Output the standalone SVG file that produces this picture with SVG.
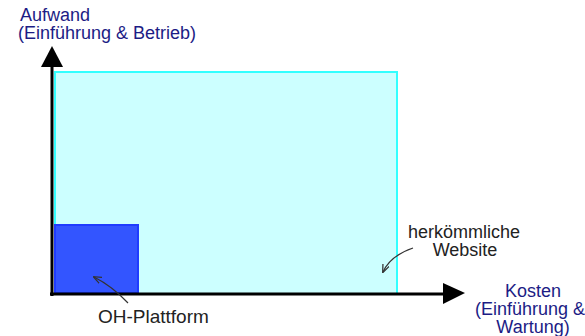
<svg xmlns="http://www.w3.org/2000/svg" width="585" height="336" viewBox="0 0 585 336">
<style>
.axis{font-family:"Liberation Sans",Arial,sans-serif;font-size:18px;fill:#1c1c85}
.lbl{font-family:"Liberation Sans",Arial,sans-serif;font-size:18px;fill:#222}
.pointer{fill:none;stroke:#333;stroke-width:1.2}
</style>
<defs>
<marker id="small" viewBox="0 0 10 10" refX="9" refY="5" markerWidth="7" markerHeight="7" orient="auto">
<path d="M0,1 L10,5 L0,9" fill="none" stroke="#333" stroke-width="1.5"/>
</marker>
</defs>
<rect width="585" height="336" fill="#fff"/>
<g id="website">
<rect x="55" y="72" width="342" height="222" fill="#ccffff" stroke="#33ffff" stroke-width="2"/>
</g>
<g id="plattform">
<rect x="55" y="225" width="83" height="68" fill="#3355ff" stroke="#1f3cff" stroke-width="2"/>
</g>
<g id="connectors">
<line x1="52" y1="296" x2="52" y2="64" stroke="#000" stroke-width="3"/>
<polygon points="52,46 41,67 63,67" fill="#000"/>
<line x1="50" y1="294" x2="445" y2="294" stroke="#000" stroke-width="3"/>
<polygon points="465,293 443,283 443,304" fill="#000"/>
<path class="pointer" d="M413,248 Q390,256 383,272" marker-end="url(#small)"/>
<path class="pointer" d="M128,303 Q112,286 94,277" marker-end="url(#small)"/>
</g>
<g id="labels">
<text class="axis" x="20" y="21">Aufwand</text>
<text class="axis" x="18" y="39">(Einführung &amp; Betrieb)</text>
<text class="axis" text-anchor="middle" x="533" y="297">Kosten</text>
<text class="axis" text-anchor="middle" x="530" y="315">(Einführung &amp;</text>
<text class="axis" text-anchor="middle" x="533" y="333">Wartung)</text>
<text class="lbl" text-anchor="middle" x="464" y="238">herkömmliche</text>
<text class="lbl" text-anchor="middle" x="465" y="256">Website</text>
<text class="lbl" x="98" y="323" style="font-size:19px">OH-Plattform</text>
</g>
</svg>
